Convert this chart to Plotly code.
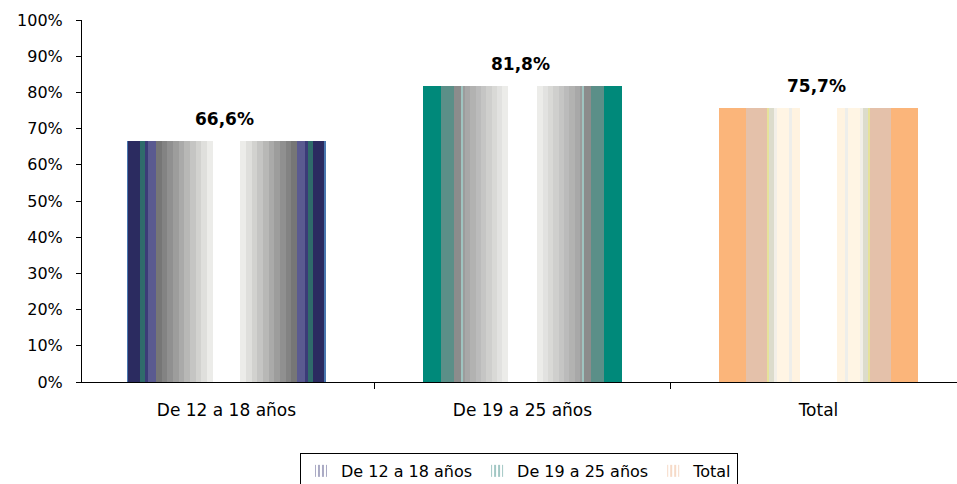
import plotly.graph_objects as go

# Data
categories = ["De 12 a 18 años", "De 19 a 25 años", "Total"]
values = [66.6, 81.8, 75.7]
series_names = ["De 12 a 18 años", "De 19 a 25 años", "Total"]
y_ticks = [0, 10, 20, 30, 40, 50, 60, 70, 80, 90, 100]

BAR_W = 0.67          # bar width in category units
FONT = "DejaVu Sans"


def mix(c1, c2, t):
    a = [int(c1[i:i + 2], 16) for i in (1, 3, 5)]
    b = [int(c2[i:i + 2], 16) for i in (1, 3, 5)]
    return "#" + "".join(f"{round(a[k] + (b[k] - a[k]) * t):02x}" for k in range(3))


def gradient(frac, c_from, c_to, steps):
    return [(frac / steps, mix(c_from, c_to, k / (steps - 1))) for k in range(steps)]


# Banded "cylinder" fill of each bar: stripes from the outer edge to the centre
# (fractions of the half bar), mirrored for the right half.
half_stripes = [
    [(0.01, "#4a78b0"), (0.12, "#2b2b60"), (0.05, "#2f6b6b"), (0.03, "#3b3b78"),
     (0.08, "#5a5a90")]
    + gradient(0.57, "#767676", "#ecece9", 10)
    + [(0.14, "#ffffff")],
    [(0.18, "#00897a"), (0.13, "#5b8f88"), (0.07, "#8c8c8c"), (0.02, "#9fc4c0"),
     (0.02, "#9c9c9c")]
    + gradient(0.43, "#a8a8a8", "#ecece9", 8)
    + [(0.15, "#ffffff")],
    [(0.265, "#fbb57a"), (0.215, "#e4c1aa"), (0.025, "#e6e29a"), (0.05, "#dcdccc"),
     (0.03, "#f2efe8"), (0.12, "#fff5e4"), (0.03, "#eeeeea"), (0.08, "#fff3e0"),
     (0.185, "#ffffff")],
]
legend_colors = ["#56568a", "#45908a", "#eeb590"]

fig = go.Figure()

for i, (cat, val) in enumerate(zip(categories, values)):
    half = half_stripes[i]
    total = sum(f for f, _ in half)
    stripes = [(f / total, c) for f, c in half]
    stripes = stripes + stripes[::-1]
    pos = -BAR_W / 2
    for frac, color in stripes:
        w = frac * BAR_W / 2
        fig.add_trace(go.Bar(
            x=[cat], y=[val], width=[w + 0.002], offset=[pos],
            marker=dict(color=color, line=dict(width=0)),
            showlegend=False, hoverinfo="skip", legendgroup=series_names[i],
        ))
        pos += w

# Legend entries with a striped key
for i, name in enumerate(series_names):
    fig.add_trace(go.Bar(
        x=[categories[i]], y=[None], name=name, legendgroup=name,
        marker=dict(color="#ffffff", line=dict(width=0),
                    pattern=dict(shape="|", fgcolor=legend_colors[i],
                                 bgcolor="#ffffff", size=5, solidity=0.5)),
        hoverinfo="skip",
    ))

# Value labels above the bars
for cat, val in zip(categories, values):
    fig.add_annotation(
        x=cat, y=val, text=f"{val:.1f}%".replace(".", ","), showarrow=False,
        yanchor="middle", yshift=22, xshift=-2,
        font=dict(family=FONT, size=17, color="#000000", weight="bold"),
    )

fig.update_layout(
    width=957, height=484,
    margin=dict(l=82, r=0, t=20, b=102, autoexpand=False),
    paper_bgcolor="#ffffff", plot_bgcolor="#ffffff",
    barmode="overlay", bargap=0,
    font=dict(family=FONT, size=15, color="#000000"),
    legend=dict(
        orientation="h", x=0.4994, xanchor="center", y=-0.196, yanchor="top",
        bordercolor="#000000", borderwidth=1, bgcolor="#ffffff",
        font=dict(family=FONT, size=16, color="#000000"),
        traceorder="normal",
    ),
)

fig.update_xaxes(
    type="category", range=[-0.488, 2.468],
    showline=True, linecolor="#000000", linewidth=1,
    ticks="outside", tickson="boundaries", ticklen=6, tickcolor="#000000",
    ticklabelstandoff=13, showgrid=False, zeroline=False,
    tickfont=dict(family=FONT, size=17),
)
fig.update_yaxes(
    range=[0, 100], tickvals=y_ticks, ticktext=[f"{v}%" for v in y_ticks],
    showline=True, linecolor="#000000", linewidth=1,
    ticks="outside", ticklen=5, tickcolor="#000000",
    ticklabelstandoff=10, showgrid=False, zeroline=False,
    tickfont=dict(family=FONT, size=16),
)

fig.write_html("out.html")
